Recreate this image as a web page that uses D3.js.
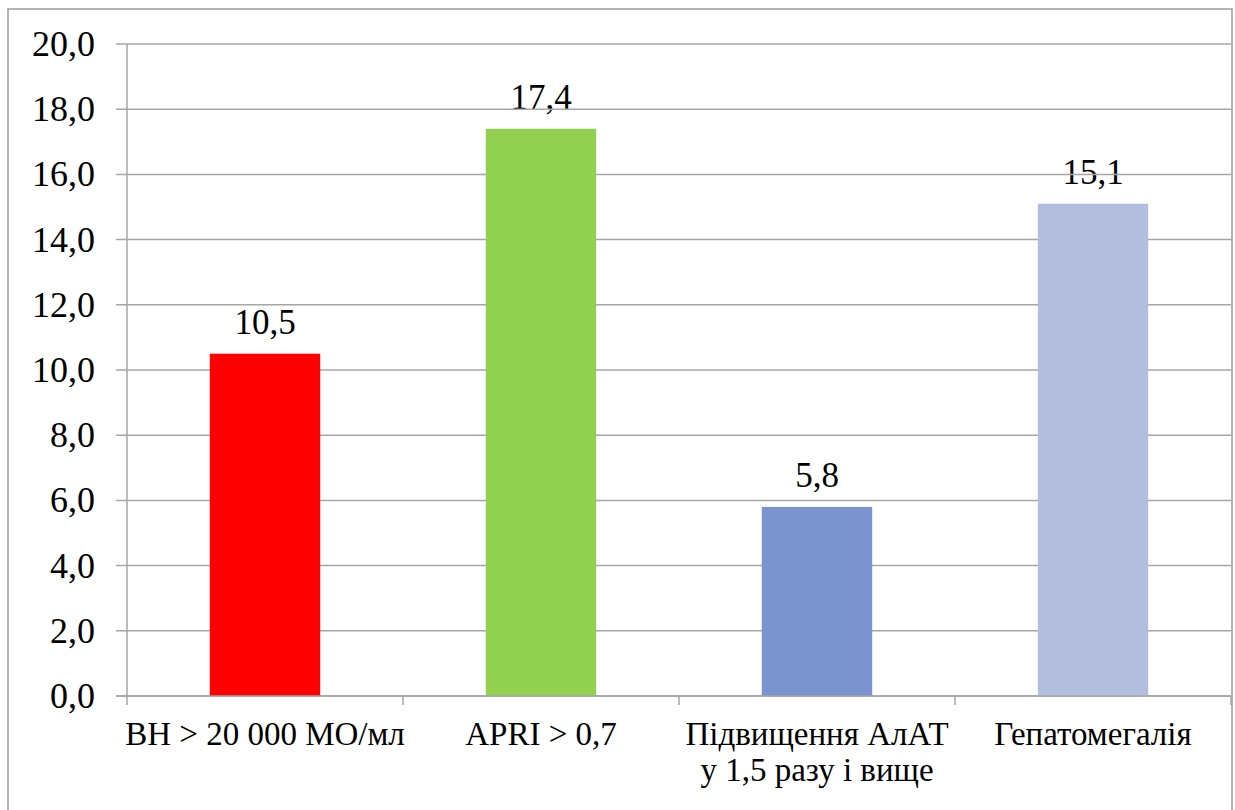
<!DOCTYPE html>
<html><head><meta charset="utf-8"><script src="https://cdn.jsdelivr.net/npm/d3@7"></script></head>
<body style="margin:0">
<svg id="chart" width="1235" height="810"></svg>
<script>
// Category labels (each entry is a list of lines)
const categories = [
  ["ВН > 20 000 МО/мл"],
  ["APRI > 0,7"],
  ["Підвищення АлАТ", "у 1,5 разу і вище"],
  ["Гепатомегалія"]
];
const values = [10.5, 17.4, 5.8, 15.1];
const barColors = ["#FF0000", "#92D050", "#7B93CF", "#B3BEDF"];
const yTicks = [0, 2, 4, 6, 8, 10, 12, 14, 16, 18, 20];

const fmt = v => v.toFixed(1).replace(".", ",");
const serif = '"Times New Roman"';

const svg = d3.select("#chart");
const W = 1235, H = 810;
const plot = { left: 127, right: 1231, top: 44, bottom: 696 };

const x = d3.scaleBand()
  .domain(d3.range(categories.length))
  .range([plot.left, plot.right])
  .paddingInner(0.6)
  .paddingOuter(0.3);

const xOuter = d3.scaleBand()
  .domain(d3.range(categories.length))
  .range([plot.left, plot.right]);

const y = d3.scaleLinear().domain([0, 20]).range([plot.bottom, plot.top]);

// Y tick labels
svg.selectAll("text.ytick")
  .data(yTicks)
  .join("text")
  .attr("class", "ytick")
  .attr("x", 95)
  .attr("y", d => y(d) + 12)
  .attr("text-anchor", "end")
  .attr("font-size", 36)
  .style("font-family", serif)
  .text(d => fmt(d));

// Value labels
svg.selectAll("text.vlabel")
  .data(values)
  .join("text")
  .attr("class", "vlabel")
  .attr("x", (d, i) => x(i) + x.bandwidth() / 2)
  .attr("y", d => y(d) - 20)
  .attr("text-anchor", "middle")
  .attr("font-size", 35)
  .style("font-family", serif)
  .text(d => fmt(d));

// Category labels, one text element per line
const catLines = categories.flatMap((lines, i) =>
  lines.map((t, j) => ({ t, i, j })));
svg.selectAll("text.cat")
  .data(catLines)
  .join("text")
  .attr("class", "cat")
  .attr("x", d => xOuter(d.i) + xOuter.bandwidth() / 2)
  .attr("y", d => 745 + d.j * 36)
  .attr("text-anchor", "middle")
  .attr("font-size", 33)
  .style("font-family", serif)
  .text(d => d.t);

// Outer frame (no bottom edge visible within the page)
svg.append("path")
  .attr("d", `M8,${H} L8,9 L1232,9 L1232,${H}`)
  .attr("fill", "none")
  .attr("stroke", "#9a9a9a")
  .attr("stroke-width", 1.5);

// Horizontal gridlines with left tick stubs
svg.append("g")
  .selectAll("line")
  .data(yTicks)
  .join("line")
  .attr("x1", plot.left - 11)
  .attr("x2", plot.right)
  .attr("y1", d => y(d))
  .attr("y2", d => y(d))
  .attr("stroke", "#a6a6a6")
  .attr("stroke-width", 1.5);

// Y axis line
svg.append("line")
  .attr("x1", plot.left).attr("x2", plot.left)
  .attr("y1", plot.top).attr("y2", plot.bottom)
  .attr("stroke", "#a6a6a6").attr("stroke-width", 1.5);

// Category tick marks at band boundaries
const boundaries = d3.range(categories.length + 1).map(i =>
  i < categories.length ? xOuter(i) : xOuter(categories.length - 1) + xOuter.bandwidth());
svg.append("g")
  .selectAll("line")
  .data(boundaries)
  .join("line")
  .attr("x1", d => d).attr("x2", d => d)
  .attr("y1", plot.bottom).attr("y2", plot.bottom + 9)
  .attr("stroke", "#a6a6a6").attr("stroke-width", 1.5);

// Bars
svg.append("g")
  .selectAll("rect")
  .data(values)
  .join("rect")
  .attr("x", (d, i) => x(i))
  .attr("width", x.bandwidth())
  .attr("y", d => y(d))
  .attr("height", d => y(0) - y(d))
  .attr("fill", (d, i) => barColors[i]);

// Baseline redrawn over bars
svg.append("line")
  .attr("x1", plot.left - 11).attr("x2", plot.right)
  .attr("y1", plot.bottom).attr("y2", plot.bottom)
  .attr("stroke", "#a6a6a6").attr("stroke-width", 1.5);
</script>
</body>
</html>
